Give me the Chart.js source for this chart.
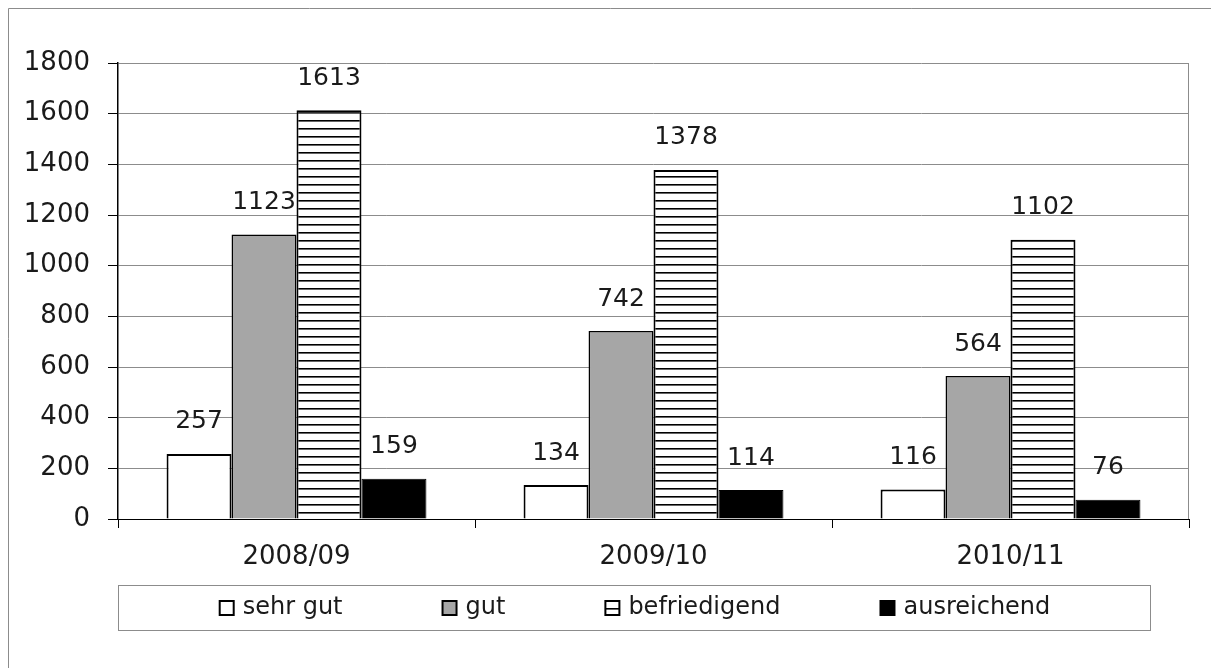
<!DOCTYPE html>
<html>
<head>
<meta charset="utf-8">
<script src="https://cdn.jsdelivr.net/npm/chart.js@4/dist/chart.umd.min.js"></script>
<style>
  html, body { margin: 0; padding: 0; background: #fff; }
  canvas { display: block; }
</style>
</head>
<body>
<canvas id="chart" width="1211" height="668"></canvas>
<script>
// data
const years = ['2008/09', '2009/10', '2010/11'];
const sehrGut = [257, 134, 116];
const gut = [1123, 742, 564];
const befriedigend = [1613, 1378, 1102];
const ausreichend = [159, 114, 76];
const seriesNames = ['sehr gut', 'gut', 'befriedigend', 'ausreichend'];
const yTicks = [0, 200, 400, 600, 800, 1000, 1200, 1400, 1600, 1800];

const FONT = '"DejaVu Sans", sans-serif';
const TEXT = '#1a1a1a';

// horizontal line hatch for "befriedigend"
function makeHatch() {
    const c = document.createElement('canvas');
    c.width = 8;
    c.height = 8;
    const g = c.getContext('2d');
    g.fillStyle = '#fff';
    g.fillRect(0, 0, 8, 8);
    g.fillStyle = '#000';
    g.fillRect(0, 0, 8, 1.6);
    return g.createPattern(c, 'repeat');
}

const canvas = document.getElementById('chart');
const hatch = makeHatch();

const fills = ['#ffffff', '#a6a6a6', hatch, '#000000'];
const borders = [2, 1.5, 2, 1];

// white background, outer frame, right border of plot
const framePlugin = {
    id: 'frame',
    beforeDraw(chart) {
        const c = chart.ctx;
        c.save();
        c.fillStyle = '#fff';
        c.fillRect(0, 0, chart.width, chart.height);
        c.strokeStyle = '#8c8c8c';
        c.lineWidth = 1;
        c.beginPath();
        c.moveTo(8.5, chart.height + 2);
        c.lineTo(8.5, 8.5);
        c.lineTo(chart.width + 2, 8.5);
        c.stroke();
        c.restore();
    },
    beforeDatasetsDraw(chart) {
        const a = chart.chartArea;
        const c = chart.ctx;
        c.save();
        c.strokeStyle = '#8c8c8c';
        c.lineWidth = 1;
        c.beginPath();
        c.moveTo(a.right - 0.5, a.top);
        c.lineTo(a.right - 0.5, a.bottom);
        c.stroke();
        c.restore();
    }
};

// value labels above bars
const labelPlugin = {
    id: 'valueLabels',
    afterDatasetsDraw(chart) {
        const c = chart.ctx;
        c.save();
        c.font = '25px ' + FONT;
        c.fillStyle = TEXT;
        c.textAlign = 'center';
        c.textBaseline = 'middle';
        chart.data.datasets.forEach((ds, i) => {
            chart.getDatasetMeta(i).data.forEach((bar, j) => {
                c.fillText(String(ds.data[j]), bar.x, bar.y - 32);
            });
        });
        c.restore();
    }
};

// boxed legend below the axis
const legendPlugin = {
    id: 'boxLegend',
    afterDraw(chart) {
        const c = chart.ctx;
        const a = chart.chartArea;
        const boxL = a.left, boxR = 1150, boxT = 585, boxB = 630;
        c.save();
        c.strokeStyle = '#8c8c8c';
        c.lineWidth = 1;
        c.strokeRect(boxL + 0.5, boxT + 0.5, boxR - boxL, boxB - boxT);

        c.font = '24px ' + FONT;
        c.textBaseline = 'middle';
        c.textAlign = 'left';
        const mark = 14, gap = 9, itemGap = 100;
        const widths = chart.data.datasets.map(ds => mark + gap + c.measureText(ds.label).width);
        const total = widths.reduce((s, w) => s + w, 0) + itemGap * (widths.length - 1);
        let x = (boxL + boxR) / 2 - total / 2 + 1;
        const cy = (boxT + boxB) / 2 + 0.5;
        chart.data.datasets.forEach((ds, i) => {
            c.fillStyle = ds.backgroundColor;
            c.fillRect(x, cy - mark / 2, mark, mark);
            c.strokeStyle = '#000';
            c.lineWidth = 2;
            c.strokeRect(x, cy - mark / 2, mark, mark);
            c.fillStyle = TEXT;
            c.fillText(ds.label, x + mark + gap, cy);
            x += widths[i] + itemGap;
        });
        c.restore();
    }
};

const chart = new Chart(canvas, {
    type: 'bar',
    data: {
        labels: years,
        datasets: [sehrGut, gut, befriedigend, ausreichend].map((values, i) => ({
            label: seriesNames[i],
            data: values,
            backgroundColor: fills[i],
            borderColor: '#000',
            borderWidth: borders[i],
            borderSkipped: 'bottom',
            categoryPercentage: 0.728,
            barPercentage: 1.0
        }))
    },
    options: {
        responsive: false,
        animation: false,
        devicePixelRatio: 1,
        layout: { padding: { left: 0, top: 63, right: 22, bottom: 99 } },
        plugins: {
            legend: { display: false },
            tooltip: { enabled: false }
        },
        scales: {
            x: {
                offset: true,
                grid: {
                    offset: true,
                    drawOnChartArea: false,
                    tickLength: 9,
                    tickColor: '#000',
                    lineWidth: 1
                },
                border: { color: '#000', width: 1 },
                ticks: {
                    color: TEXT,
                    font: { family: FONT, size: 26 },
                    padding: 14,
                    maxRotation: 0
                },
                afterFit(scale) { scale.height = 50; }
            },
            y: {
                min: 0,
                max: 1800,
                afterBuildTicks(scale) { scale.ticks = yTicks.map(v => ({ value: v })); },
                grid: {
                    color: '#8c8c8c',
                    tickColor: '#000',
                    tickLength: 10,
                    lineWidth: 1
                },
                border: { color: '#000', width: 1.5 },
                ticks: {
                    color: TEXT,
                    font: { family: FONT, size: 26 },
                    padding: 18,
                    callback: v => String(v)
                },
                afterFit(scale) { scale.width = 118; }
            }
        }
    },
    plugins: [framePlugin, labelPlugin, legendPlugin]
});
</script>
</body>
</html>
